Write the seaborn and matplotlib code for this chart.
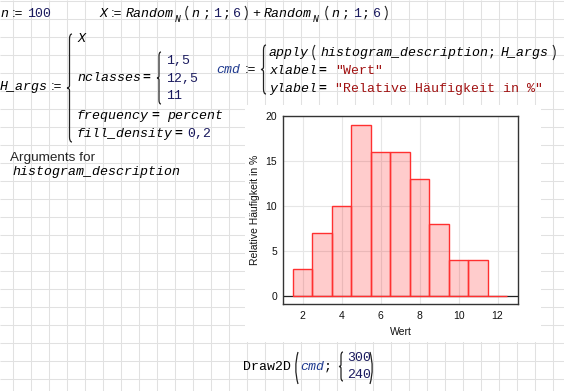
import numpy as np
import pandas as pd
import matplotlib
matplotlib.use("Agg")
import matplotlib.pyplot as plt
import seaborn as sns
from matplotlib.path import Path
from matplotlib.patches import PathPatch, Rectangle

# ---------------- data ----------------
bin_centers = [2, 3, 4, 5, 6, 7, 8, 9, 10, 11, 12]
rel_freq = [3, 7, 10, 19, 16, 16, 13, 8, 4, 4, 0]
class_lower, class_upper, n_classes = 1.5, 12.5, 11
x_ticks = [2, 4, 6, 8, 10, 12]
y_ticks = [0, 5, 10, 15, 20]
x_label = "Wert"
y_label = "Relative Häufigkeit in %"

sns.set_style("white")
plt.rcParams["font.family"] = ["Liberation Sans", "DejaVu Sans"]

W, H = 564, 391
fig = plt.figure(figsize=(W / 100, H / 100), dpi=100)
fig.patch.set_facecolor("white")

# background worksheet axes in pixel coordinates
bg = fig.add_axes([0, 0, 1, 1])
bg.set_xlim(0, W)
bg.set_ylim(H, 0)
bg.axis("off")
bg.vlines(np.arange(13, W, 18), 0, H, color="#e1e1e1", lw=0.75, snap=True, zorder=0)
bg.hlines(np.arange(1, H, 18), 0, W, color="#e1e1e1", lw=0.75, snap=True, zorder=0)
bg.add_patch(Rectangle((245, 105), 296, 237, facecolor="white", edgecolor="none", zorder=1))

MONO = "Liberation Mono"
FS = 9.5
NAVY = "#1a1a5e"
CMDC = "#1f3a8f"
STR = "#a01010"


def t(x, y, s, style="i", size=FS, color=None):
    kw = dict(fontfamily=MONO, fontsize=size, va="baseline", ha="left", zorder=3)
    if style == "i":
        kw.update(fontstyle="italic", color=color or "black")
    elif style == "n":
        kw.update(color=color or NAVY)
    elif style == "c":
        kw.update(fontstyle="italic", color=CMDC)
    elif style == "s":
        kw.update(color=STR)
    elif style == "b":
        kw.update(fontweight="bold", color="black")
    else:
        kw.update(color=color or "black")
    bg.text(x, y, s, **kw)


def assign(x, y):
    # x = left edge of the ':=' sign
    bg.text(x - 0.5, y, ":=", fontfamily="Liberation Sans", fontsize=FS, va="baseline",
            ha="left", color="black", zorder=3)


def brace(x, y0, y1, w=4, lw=0.9):
    xm = x + w / 2
    ym = (y0 + y1) / 2
    verts = [(x + w, y0), (xm, y0), (xm, y0 + w), (xm, ym - w / 2), (xm, ym), (x, ym),
             (xm, ym), (xm, ym + w / 2), (xm, y1 - w), (xm, y1), (x + w, y1)]
    codes = [Path.MOVETO, Path.CURVE3, Path.CURVE3, Path.LINETO, Path.CURVE3, Path.CURVE3,
             Path.CURVE3, Path.CURVE3, Path.LINETO, Path.CURVE3, Path.CURVE3]
    bg.add_patch(PathPatch(Path(verts, codes), fill=False, lw=lw, color="#222", zorder=3))


def paren(x, y0, y1, left=True, lw=0.9):
    ym = (y0 + y1) / 2
    if left:
        verts = [(x + 3, y0), (x - 1.5, ym), (x + 3, y1)]
    else:
        verts = [(x, y0), (x + 4.5, ym), (x, y1)]
    bg.add_patch(PathPatch(Path(verts, [Path.MOVETO, Path.CURVE3, Path.CURVE3]),
                           fill=False, lw=lw, color="#222", zorder=3))


# ---- line 1 ----
b1 = 17
t(0, b1, "n")
assign(12, b1)
t(27, b1, "100", "n")
t(99, b1, "X")
assign(111, b1)
t(126, b1, "Random")
t(175, b1 + 5, "N", size=7)
paren(185, 6, 20, left=True, lw=0.8)
t(191, b1, "n")
t(202.5, b1, ";", "o")
t(213.5, b1, "1", "n")
t(222.5, b1, ";", "o")
t(233.5, b1, "6", "n")
paren(245, 6, 20, left=False, lw=0.8)
t(252, b1, "+", "o")
t(264, b1, "Random")
t(313, b1 + 5, "N", size=7)
paren(325, 6, 20, left=True, lw=0.8)
t(331, b1, "n")
t(342, b1, ";", "o")
t(353.5, b1, "1", "n")
t(362, b1, ";", "o")
t(373.5, b1, "6", "n")
paren(385, 6, 20, left=False, lw=0.8)

# ---- H_args block ----
t(0, 90, "H_args")
assign(51, 90)
brace(67, 34, 142, 5)
t(77, 42, "X")
t(77, 81, "nclasses")
t(142.5, 81, "=", "b")
brace(157, 52, 104, 4)
t(166, 64, "1,5", "n")
t(166, 82, "12,5", "n")
t(166, 99, "11", "n")
t(77, 119, "frequency")
t(151, 119, "=", "b")
t(167, 119, "percent")
t(77, 137, "fill_density")
t(174, 137, "=", "b")
t(187, 137, "0,2", "n")

bg.text(10, 161, "Arguments for", fontfamily="Liberation Sans", fontsize=9.7,
        va="baseline", ha="left", zorder=3)
t(12, 175, "histogram_description")

# ---- cmd block ----
t(216, 73, "cmd", "c")
assign(245, 73)
brace(261, 45, 94, 5)
t(269, 56, "apply")
paren(312, 45, 60, left=True, lw=0.8)
t(320, 56, "histogram_description")
t(488, 56, ";", "o")
t(501, 56, "H_args")
paren(553, 45, 60, left=False, lw=0.8)
t(269, 74, "xlabel")
t(318.5, 74, "=", "b")
t(335, 74, '"Wert"', "s")
t(269, 92, "ylabel")
t(318.5, 92, "=", "b")
t(335, 92, '"Relative Häufigkeit in %"', "s")

# ---- Draw2D line ----
t(243, 370, "Draw2D", "o")
paren(295, 352, 384, left=True)
t(300, 370, "cmd", "c")
t(324, 370, ";", "o")
brace(339, 352, 381, 4)
t(347, 361, "300", "n")
t(347, 378, "240", "n")
paren(370, 352, 384, left=False)

# ---------------- histogram ----------------
ax = fig.add_axes([283 / W, (H - 304) / H, 235 / W, 188 / H])
ax.set_facecolor("white")
df = pd.DataFrame({"Wert": bin_centers, "Prozent": rel_freq})
bin_edges = [float(b) for b in np.linspace(class_lower, class_upper, n_classes + 1)]
sns.histplot(data=df, x="Wert", weights="Prozent", bins=bin_edges, ax=ax, color="red",
             alpha=0.2, edgecolor="#ff3030", linewidth=1.0, zorder=3)
ax.axhline(0, color="#222222", lw=0.9, zorder=2)
ax.set_xlim(1.0, 13.05)
ax.set_ylim(-0.89, 20)
ax.set_xticks(x_ticks)
ax.set_yticks(y_ticks)
ax.grid(True, color="#e6e6e6", lw=0.8)
ax.set_axisbelow(True)
ax.tick_params(direction="in", length=3, width=0.8, color="#222222",
               labelsize=7.5, labelcolor="#111111")
ax.tick_params(axis="x", pad=5.0)
ax.tick_params(axis="y", pad=4.3)
for sp in ax.spines.values():
    sp.set_color("#333333")
    sp.set_linewidth(1.0)
ax.set_xlabel(x_label, fontsize=7.5, labelpad=4.5, color="#111111")
ax.set_ylabel(y_label, fontsize=7.5, labelpad=4.0, color="#111111")

fig.savefig("out.png", dpi=100)
